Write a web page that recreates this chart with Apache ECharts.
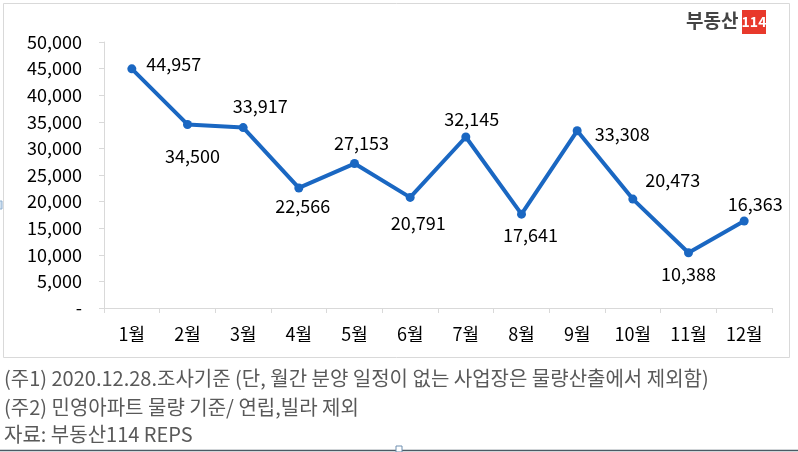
<!DOCTYPE html>
<html>
<head>
<meta charset="utf-8">
<script src="https://cdn.jsdelivr.net/npm/echarts@6/dist/echarts.min.js"></script>
<style>
html,body{margin:0;padding:0;background:#fff;}
#c{width:798px;height:452px;}
</style>
</head>
<body>
<div id="c"></div>
<script>
var categories = ['1월','2월','3월','4월','5월','6월','7월','8월','9월','10월','11월','12월'];
var values = [44957, 34500, 33917, 22566, 27153, 20791, 32145, 17641, 33308, 20473, 10388, 16363];
var notes = [
  '(주1) 2020.12.28.조사기준 (단, 월간 분양 일정이 없는 사업장은 물량산출에서 제외함)',
  '(주2) 민영아파트 물량 기준/ 연립,빌라 제외',
  '자료: 부동산114 REPS'
];
// label offsets (layout only): [dx, dy] from point to label centre
var labelOffsets = [[42,-5],[5,32],[17,-21],[4,18],[7,-20],[8,26],[6,-18],[9,21],[45,3],[40,-19],[0,21],[11,-17]];

var FONT = '"Noto Sans CJK KR", "Noto Sans", sans-serif';
var chart = echarts.init(document.getElementById('c'), null, {renderer:'canvas'});

var seriesData = values.map(function(v,i){
  return {
    value: v,
    label: { offset: labelOffsets[i] }
  };
});

var option = {
  backgroundColor: '#fff',
  animation: false,
  grid: { left: 104, right: 26, top: 42, bottom: 144 },
  xAxis: {
    type: 'category',
    data: categories,
    boundaryGap: true,
    axisLine: { show: true, lineStyle: { color: '#d9d9d9', width: 1 } },
    axisTick: { show: true, length: 5, lineStyle: { color: '#d9d9d9' } },
    axisLabel: { color: '#000', fontSize: 18, fontFamily: FONT, margin: 17 },
    splitLine: { show: false }
  },
  yAxis: {
    type: 'value',
    min: 0, max: 50000, interval: 5000,
    axisLine: { show: true, lineStyle: { color: '#d9d9d9', width: 1 } },
    axisTick: { show: true, length: 5, lineStyle: { color: '#d9d9d9' } },
    axisLabel: {
      color: '#000', fontSize: 18, fontFamily: FONT, margin: 22,
      formatter: function(v){ return v === 0 ? '-' : v.toLocaleString('en-US'); }
    },
    splitLine: { show: false }
  },
  series: [{
    type: 'line',
    data: seriesData,
    symbol: 'circle',
    symbolSize: 9,
    lineStyle: { color: '#1a67c2', width: 4 },
    itemStyle: { color: '#1a67c2' },
    label: {
      show: true,
      position: 'inside',
      align: 'center',
      verticalAlign: 'middle',
      color: '#000',
      fontSize: 18,
      fontFamily: FONT,
      formatter: function(p){ return p.value.toLocaleString('en-US'); }
    }
  }],
  graphic: [
    { type: 'rect', shape: { x: 3.5, y: 3.5, width: 786, height: 354 }, style: { fill: 'none', stroke: '#d9d9d9', lineWidth: 1 }, z: -1 },
    { type: 'text', left: 686, top: 11, style: { text: '부동산', fill: '#444', font: 'bold 19px ' + FONT } },
    { type: 'rect', shape: { x: 742, y: 10, width: 24, height: 24 }, style: { fill: '#e8392b' } },
    { type: 'text', x: 754, y: 22, style: { text: '114', fill: '#fff', font: 'bold 14px ' + FONT, align: 'center', verticalAlign: 'middle' } },
    { type: 'text', x: 4, y: 378, style: { text: notes[0], fill: '#595959', font: '20px ' + FONT, verticalAlign: 'middle' } },
    { type: 'text', x: 4, y: 407, style: { text: notes[1], fill: '#595959', font: '20px ' + FONT, verticalAlign: 'middle' } },
    { type: 'text', x: 4, y: 434, style: { text: notes[2], fill: '#595959', font: '20px ' + FONT, verticalAlign: 'middle' } },
    { type: 'line', shape: { x1: 0, y1: 450.5, x2: 798, y2: 450.5 }, style: { stroke: '#4a5a64', lineWidth: 1.5 } },
    { type: 'rect', shape: { x: 396, y: 446, width: 6, height: 6 }, style: { fill: '#fff', stroke: '#6f8fb0', lineWidth: 1 } },
    { type: 'rect', shape: { x: -2, y: 201, width: 4, height: 8 }, style: { fill: '#cfe0f0', stroke: '#8fb0d0', lineWidth: 1 } }
  ]
};
chart.setOption(option);
</script>
</body>
</html>
